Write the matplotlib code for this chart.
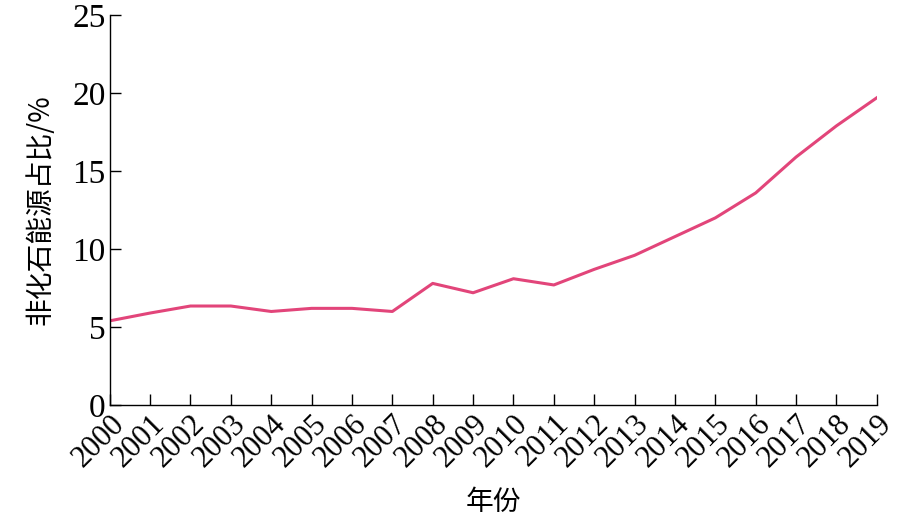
import matplotlib

matplotlib.use("Agg")
import matplotlib.pyplot as plt

years = list(range(2000, 2020))
share = [5.4, 5.9, 6.35, 6.35, 6.0, 6.2, 6.2, 6.0, 7.8, 7.2,
         8.1, 7.7, 8.7, 9.6, 10.8, 12.0, 13.6, 15.9, 17.9, 19.7]
yticks = [0, 5, 10, 15, 20, 25]

SERIF = ["Liberation Serif", "DejaVu Serif"]
CJK = ["Noto Sans CJK SC", "DejaVu Sans"]

fig = plt.figure(figsize=(9.22, 5.2), dpi=100)
ax = fig.add_axes([0.119, 0.221, 0.832, 0.750])

ax.plot(years, share, color="#e2457a", lw=2.2)

ax.set_xlim(2000, 2019)
ax.set_ylim(0, 25)
ax.set_xticks(years)
ax.set_yticks(yticks)
ax.set_xticklabels([str(y) for y in years], rotation=45, ha="right",
                   rotation_mode="anchor", family=SERIF, fontsize=22)
ax.set_yticklabels([str(v) for v in yticks], family=SERIF, fontsize=24)
ax.tick_params(axis="both", direction="in", length=8, width=1, pad=3)

for s in ("top", "right"):
    ax.spines[s].set_visible(False)
for s in ("left", "bottom"):
    ax.spines[s].set_linewidth(1)

ax.set_ylabel("非化石能源占比/%", family=CJK, fontsize=20, labelpad=12)
ax.set_xlabel("年份", family=CJK, fontsize=20, labelpad=10)

fig.savefig("out.png", dpi=100)
